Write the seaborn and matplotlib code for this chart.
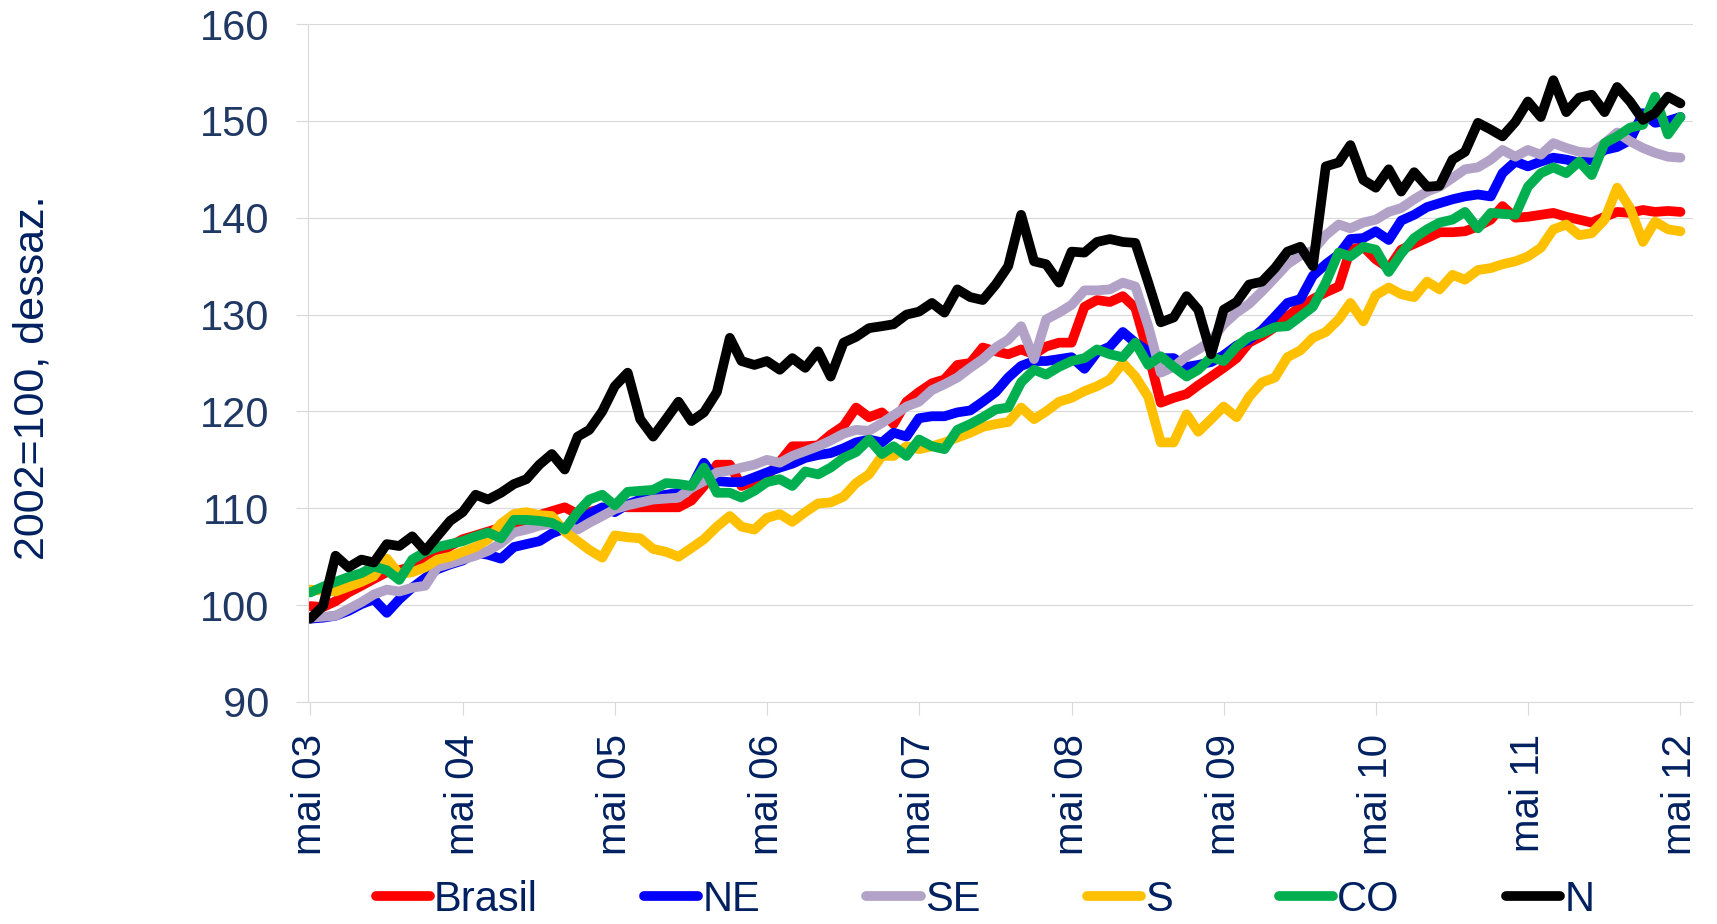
import pandas as pd
import matplotlib
matplotlib.use("Agg")
import matplotlib.pyplot as plt
from matplotlib.lines import Line2D
import seaborn as sns

sns.set_theme(style="white")
plt.rcParams["font.family"] = ["Liberation Sans", "DejaVu Sans"]

# -----------------------------------------------------------------------------
# Dados: indice mensal dessazonalizado (2002=100), mai/2003 a mai/2012
# -----------------------------------------------------------------------------
inicio = "2003-05-01"
n_meses = 109

regioes = ["Brasil", "NE", "SE", "S", "CO", "N"]
cores = ["#FF0000", "#0000FF", "#B3A2C7", "#FFC000", "#00B050", "#000000"]

brasil = [99.9, 99.8, 100.4, 101.3, 102.0, 102.7, 103.4, 103.6, 104.0, 104.4, 105.2, 106.1, 106.8, 107.2, 107.6, 108.0, 108.3, 108.8, 109.3, 109.7, 110.1,
          109.4, 109.6, 110.0, 110.2, 110.1, 110.1, 110.1, 110.1, 110.1, 110.8, 112.3, 114.5, 114.5, 112.3, 112.8, 113.3, 114.8, 116.4, 116.4, 116.5, 117.6, 118.5,
          120.4, 119.4, 119.9, 118.7, 121.0, 122.0, 122.9, 123.3, 124.8, 125.0, 126.6, 126.2, 125.9, 126.4, 125.9, 126.7, 127.1, 127.1, 130.8, 131.5, 131.3, 131.9, 130.7,
          126.0, 120.9, 121.4, 121.8, 122.7, 123.6, 124.5, 125.5, 127.1, 127.8, 128.7, 129.8, 130.8, 131.6, 132.3, 132.9, 136.7, 137.0, 135.7, 134.8,
          136.7, 137.3, 137.9, 138.5, 138.5, 138.6, 139.1, 139.8, 141.2, 140.0, 140.1, 140.3, 140.5, 140.1, 139.8, 139.5, 140.1, 140.6, 140.5, 140.8, 140.6, 140.7, 140.6]

ne = [98.6, 98.7, 98.9, 99.4, 100.1, 100.6, 99.2, 100.6, 101.8, 102.8, 103.7, 104.2, 104.6, 105.4, 105.2, 104.8, 106.0, 106.3, 106.6, 107.4, 107.9,
      108.9, 109.4, 110.1, 109.6, 110.4, 110.9, 111.2, 111.4, 111.6, 112.2, 114.7, 112.8, 112.7, 112.7, 113.2, 113.7, 114.2, 114.6, 115.2, 115.5, 115.7,
      116.2, 116.8, 117.1, 116.8, 117.8, 117.4, 119.3, 119.5, 119.5, 119.9, 120.1, 121.0, 122.0, 123.5, 124.7, 125.2, 125.2, 125.4, 125.6, 124.4, 126.1,
      126.7, 128.2, 127.1, 126.2, 125.5, 125.5, 124.6, 124.8, 125.1, 125.8, 126.8, 127.4, 128.4, 129.8, 131.2, 131.6, 134.0, 135.2, 136.2, 137.8, 137.9, 138.6, 137.7,
      139.7, 140.3, 141.1, 141.5, 141.9, 142.2, 142.4, 142.2, 144.6, 145.8, 145.3, 145.8, 146.2, 146.0, 145.7, 146.0, 147.0, 147.3, 148.0, 150.8, 149.8, 150.0, 150.4]

se = [98.7, 98.8, 98.9, 99.6, 100.3, 101.1, 101.6, 101.4, 101.8, 102.0, 103.9, 104.3, 104.7, 105.1, 105.6, 106.4, 107.5, 107.8, 108.2, 108.4, 108.0,
      107.8, 108.5, 109.2, 109.9, 110.3, 110.6, 110.9, 111.0, 111.1, 112.1, 112.8, 113.7, 113.9, 114.2, 114.5, 115.0, 114.7, 115.4, 115.9, 116.4, 117.0,
      117.7, 118.1, 118.0, 118.8, 119.6, 120.5, 121.0, 122.2, 122.8, 123.5, 124.5, 125.4, 126.6, 127.4, 128.8, 125.4, 129.5, 130.2, 131.0, 132.5, 132.5,
      132.6, 133.3, 132.9, 128.8, 124.0, 124.6, 125.7, 126.4, 127.3, 129.0, 130.2, 131.1, 132.4, 133.8, 135.2, 136.1, 136.6, 138.2, 139.3, 138.9, 139.5, 139.8, 140.6,
      141.0, 141.9, 142.7, 143.2, 144.1, 145.0, 145.2, 146.0, 147.0, 146.3, 147.0, 146.5, 147.7, 147.2, 146.8, 146.7, 147.7, 148.8, 147.9, 147.2, 146.7, 146.3, 146.2]

sul = [101.6, 101.5, 101.4, 101.9, 102.4, 103.0, 104.8, 103.2, 103.4, 103.9, 104.7, 105.0, 105.5, 106.0, 106.8, 108.4, 109.4, 109.6, 109.3, 109.2, 107.6,
       106.6, 105.7, 104.9, 107.2, 107.0, 106.9, 105.8, 105.5, 105.0, 105.9, 106.8, 108.1, 109.2, 108.1, 107.8, 109.0, 109.4, 108.6, 109.6, 110.5, 110.6, 111.2, 112.6,
       113.5, 115.4, 115.4, 116.4, 116.1, 116.4, 116.8, 117.3, 117.8, 118.4, 118.7, 118.9, 120.4, 119.2, 120.0, 121.0, 121.4, 122.1, 122.6, 123.3, 125.0,
       123.6, 121.5, 116.8, 116.8, 119.7, 117.9, 119.2, 120.5, 119.4, 121.5, 123.0, 123.5, 125.6, 126.3, 127.6, 128.2, 129.5, 131.2, 129.3, 132.0, 132.8,
       132.1, 131.8, 133.4, 132.6, 134.1, 133.6, 134.6, 134.8, 135.2, 135.5, 136.0, 136.9, 138.8, 139.3, 138.2, 138.4, 139.8, 143.1, 141.0, 137.5, 139.6, 138.8, 138.6]

co = [101.3, 101.9, 102.4, 102.9, 103.3, 104.0, 103.6, 102.6, 104.7, 105.5, 106.0, 106.3, 106.6, 107.1, 107.5, 106.9, 108.8, 108.8, 108.7, 108.5, 107.8,
      109.6, 110.9, 111.4, 110.3, 111.7, 111.8, 111.9, 112.6, 112.5, 112.3, 114.2, 111.6, 111.6, 111.1, 111.8, 112.7, 113.0, 112.3, 113.8, 113.5, 114.2,
      115.2, 115.8, 117.1, 115.6, 116.4, 115.4, 117.1, 116.4, 116.1, 118.1, 118.7, 119.4, 120.2, 120.4, 123.0, 124.3, 123.8, 124.6, 125.2, 125.5, 126.4,
      125.9, 125.6, 127.1, 124.8, 125.7, 124.6, 123.6, 124.3, 125.6, 125.2, 126.7, 127.7, 128.1, 128.7, 128.8, 129.8, 130.8, 133.3, 136.4, 136.0, 137.0, 136.7, 134.4,
      136.3, 137.9, 138.8, 139.5, 139.8, 140.6, 138.9, 140.5, 140.4, 140.3, 143.2, 144.6, 145.2, 144.6, 145.8, 144.4, 147.7, 148.4, 149.3, 149.6, 152.5, 148.6, 150.4]

norte = [98.6, 99.9, 105.1, 103.9, 104.7, 104.4, 106.3, 106.1, 107.1, 105.6, 107.1, 108.7, 109.6, 111.4, 110.9, 111.6, 112.5, 113.0, 114.5, 115.6, 114.0,
         117.4, 118.1, 120.0, 122.6, 124.0, 119.2, 117.4, 119.2, 121.0, 119.0, 119.9, 122.0, 127.6, 125.2, 124.8, 125.2, 124.3, 125.5, 124.5, 126.2,
         123.6, 127.1, 127.7, 128.6, 128.8, 129.0, 130.0, 130.3, 131.2, 130.2, 132.6, 131.8, 131.5, 133.1, 135.0, 140.3, 135.5, 135.2, 133.3, 136.5,
         136.4, 137.5, 137.8, 137.5, 137.4, 133.3, 129.2, 129.7, 131.9, 130.5, 125.9, 130.5, 131.3, 133.1, 133.4, 134.8, 136.5, 137.0, 135.0, 145.3, 145.7, 147.5, 143.9,
         143.1, 145.0, 142.7, 144.7, 143.2, 143.3, 146.0, 146.8, 149.8, 149.1, 148.4, 149.9, 152.0, 150.4, 154.2, 150.9, 152.4, 152.7, 150.9, 153.5, 152.0, 150.1, 150.8, 152.5, 151.8]

rotulos_x = ["mai 03", "mai 04", "mai 05", "mai 06", "mai 07",
             "mai 08", "mai 09", "mai 10", "mai 11", "mai 12"]
ticks_y = [90, 100, 110, 120, 130, 140, 150, 160]

series = [brasil, ne, se, sul, co, norte]
for nome, s in zip(regioes, series):
    assert len(s) == n_meses, (nome, len(s))

meses = pd.date_range(inicio, periods=n_meses, freq="MS")
df = pd.concat(
    [pd.DataFrame({"mes": meses, "indice": s, "regiao": nome})
     for nome, s in zip(regioes, series)],
    ignore_index=True,
)

# -----------------------------------------------------------------------------
# Grafico
# -----------------------------------------------------------------------------
cor_texto = "#002060"
cor_eixo = "#D9D9D9"
lw = 7.0

fig = plt.figure(figsize=(17.17, 9.24), dpi=100)
ax = fig.add_axes([0.1794, 0.2403, 0.8066, 0.7337])

sns.lineplot(data=df, x="mes", y="indice", hue="regiao", hue_order=regioes,
             palette=cores, linewidth=lw, legend=False, errorbar=None, ax=ax,
             solid_joinstyle="round", solid_capstyle="round")

ax.set_ylim(90, 160)
ax.set_yticks(ticks_y)
ax.set_xlim(pd.Timestamp("2003-04-26"), pd.Timestamp("2012-05-31"))
ax.set_xticks(pd.date_range(inicio, periods=len(rotulos_x), freq="12MS"))
ax.set_xticklabels(rotulos_x, rotation=90)

ax.yaxis.grid(True, color=cor_eixo, lw=0.8)
ax.xaxis.grid(False)
for lado in ["top", "right"]:
    ax.spines[lado].set_visible(False)
for lado in ["left", "bottom"]:
    ax.spines[lado].set_color(cor_eixo)
    ax.spines[lado].set_linewidth(0.8)

ax.tick_params(axis="y", length=9, width=0.8, color=cor_eixo, pad=19,
               labelsize=30, labelcolor="#1F3864", left=True)
ax.tick_params(axis="x", length=9, width=0.8, color=cor_eixo, pad=14,
               labelsize=29, labelcolor=cor_texto, bottom=True)

ax.set_xlabel("")
ax.set_ylabel("2002=100, dessaz.", fontsize=31, color=cor_texto)
ax.yaxis.set_label_coords(-0.199, 0.478)
ax.yaxis.label.set_va("center")

handles = [Line2D([], [], color=c, lw=lw, solid_capstyle="round") for c in cores]
fig.legend(handles, regioes, loc="center", bbox_to_anchor=(985 / 1717, 1 - 900 / 924),
           ncol=6, frameon=False, fontsize=30, handlelength=1.3,
           handletextpad=0.1, columnspacing=2.55, labelcolor=cor_texto,
           borderpad=0.1)

fig.savefig("out.png", dpi=100)
plt.close(fig)
